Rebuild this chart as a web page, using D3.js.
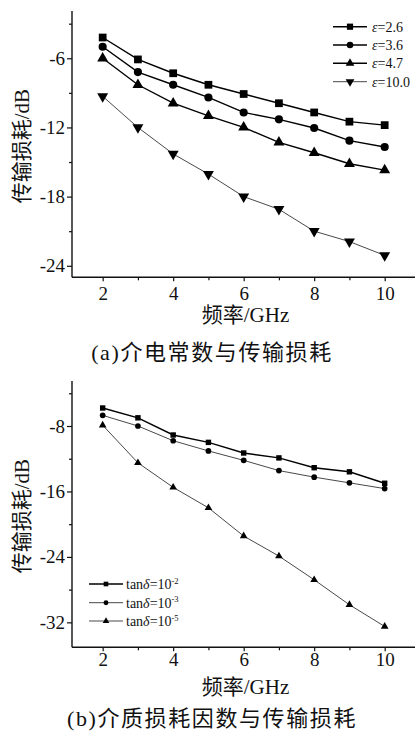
<!DOCTYPE html>
<html>
<head>
<meta charset="utf-8">
<script src="https://d3js.org/d3.v7.min.js"></script>
<style>
  body { margin: 0; background: #fff; }
  svg text { font-family: "Liberation Serif", "Times New Roman", "Noto Sans CJK SC", serif; fill: #111; }
</style>
</head>
<body>
<svg id="chart" width="418" height="733"></svg>
<script>
// frequency points (GHz)
const freqs = [2, 3, 4, 5, 6, 7, 8, 9, 10];

// (a) dielectric constant vs transmission loss (dB)
const eps26 = [-4.2, -6.1, -7.3, -8.3, -9.1, -9.9, -10.7, -11.5, -11.8];
const eps36 = [-5.0, -7.2, -8.3, -9.4, -10.7, -11.3, -12.05, -13.15, -13.7];
const eps47 = [-6.0, -8.3, -9.9, -11.0, -12.0, -13.3, -14.2, -15.15, -15.7];
const eps100 = [-9.3, -12.0, -14.3, -16.05, -18.0, -19.1, -21.0, -21.9, -23.1];

// (b) loss tangent vs transmission loss (dB)
const tan2 = [-5.8, -7.0, -9.1, -10.0, -11.3, -11.9, -13.1, -13.6, -15.0];
const tan3 = [-6.7, -8.0, -9.8, -11.05, -12.2, -13.45, -14.25, -14.95, -15.65];
const tan5 = [-7.9, -12.5, -15.5, -18.0, -21.45, -23.9, -26.8, -29.85, -32.5];

// tick labels
const xTicks = [2, 4, 6, 8, 10];
const xMinor = [3, 5, 7, 9];
const yTicksA = [-6, -12, -18, -24];
const yMinorA = [-3, -9, -15, -21];
const yTicksB = [-8, -16, -24, -32];
const yMinorB = [-4, -12, -20, -28];

const svg = d3.select('#chart');
const left = 72, right = 415;

const panels = [
    {
        top: 11, bottom: 277.3, yDomain: [-25, -1.9], yTicks: yTicksA, yMinor: yMinorA,
        xPad: 5, xTitleY: 322, caption: '(a)介电常数与传输损耗', captionY: 360,
        markerScale: 1,
        series: [
            { values: eps26, sym: 'square', label: 'ε', suffix: '=2.6', thick: true },
            { values: eps36, sym: 'circle', label: 'ε', suffix: '=3.6', thick: true },
            { values: eps47, sym: 'triangle', label: 'ε', suffix: '=4.7', thick: true },
            { values: eps100, sym: 'down', label: 'ε', suffix: '=10.0', thick: false }
        ],
        legend: { x1: 333, x2: 367, tx: 372, ys: [26.7, 45, 63.3, 81.7], scale: 0.8 }
    },
    {
        top: 381, bottom: 647.3, yDomain: [-35.05, -2.5], yTicks: yTicksB, yMinor: yMinorB,
        xPad: 1.5, xTitleY: 694, caption: '(b)介质损耗因数与传输损耗', captionY: 726,
        markerScale: 0.7,
        series: [
            { values: tan2, sym: 'square', tan: true, sup: '-2', thick: true },
            { values: tan3, sym: 'circle', tan: true, sup: '-3', thick: false },
            { values: tan5, sym: 'triangle', tan: true, sup: '-5', thick: false }
        ],
        legend: { x1: 89, x2: 123, tx: 126, ys: [584, 602.7, 621], scale: 0.6 }
    }
];

const symbolArea = { square: 60, circle: 52, triangle: 52, down: 52 };
function symbolPath(sym, scale) {
    const type = sym === 'square' ? d3.symbolSquare : sym === 'circle' ? d3.symbolCircle : d3.symbolTriangle;
    return d3.symbol().type(type).size(symbolArea[sym] * scale * scale)();
}

panels.forEach(p => {
    const x = d3.scaleLinear().domain([1.13, 10.86]).range([left, right]);
    const y = d3.scaleLinear().domain(p.yDomain).range([p.bottom, p.top]);
    const g = svg.append('g');

    // axes: major ticks with labels, minor ticks without
    const xAxis = g.append('g')
        .attr('transform', `translate(0,${p.bottom})`)
        .call(d3.axisBottom(x).tickValues(xTicks).tickSize(4).tickPadding(p.xPad).tickFormat(d => String(d)));
    g.append('g')
        .attr('transform', `translate(0,${p.bottom})`)
        .call(d3.axisBottom(x).tickValues(xMinor).tickSize(3).tickFormat(''))
        .call(a => a.select('.domain').remove());
    const yAxis = g.append('g')
        .attr('transform', `translate(${left},0)`)
        .call(d3.axisLeft(y).tickValues(p.yTicks).tickSize(5).tickPadding(2).tickFormat(d => String(d)));
    g.append('g')
        .attr('transform', `translate(${left},0)`)
        .call(d3.axisLeft(y).tickValues(p.yMinor).tickSize(3).tickFormat(''))
        .call(a => a.select('.domain').remove());

    // plain axis lines, no end caps
    xAxis.select('.domain').attr('d', `M${left},0H${right}`);
    yAxis.select('.domain').attr('d', `M0,${p.top}V${p.bottom}`);
    g.selectAll('.domain').attr('stroke', '#111').attr('stroke-width', 1.4);
    g.selectAll('.tick line').attr('stroke', '#111').attr('stroke-width', 1.2);
    g.selectAll('.tick text').attr('font-size', 19).attr('fill', '#111');

    // axis titles
    g.append('text')
        .attr('x', (left + right) / 2 + 2).attr('y', p.xTitleY)
        .attr('text-anchor', 'middle').attr('font-size', 21)
        .text('频率/GHz');
    g.append('text')
        .attr('transform', `translate(22,${(p.top + p.bottom) / 2 + 2}) rotate(-90)`)
        .attr('text-anchor', 'middle').attr('dy', '0.35em').attr('font-size', 21)
        .text('传输损耗/dB');

    // caption
    g.append('text')
        .attr('x', 212).attr('y', p.captionY)
        .attr('text-anchor', 'middle').attr('font-size', 22).attr('letter-spacing', 1.6)
        .text(p.caption);

    // series
    const line = d3.line().x((d, i) => x(freqs[i])).y(d => y(d));
    p.series.forEach(s => {
        g.append('path')
            .datum(s.values)
            .attr('fill', 'none')
            .attr('stroke', s.thick ? '#000' : '#333')
            .attr('stroke-width', s.thick ? 1.4 : 0.9)
            .attr('d', line);
        g.append('g').selectAll('path')
            .data(s.values)
            .join('path')
            .attr('d', symbolPath(s.sym, p.markerScale))
            .attr('fill', '#000')
            .attr('transform', (d, i) => `translate(${x(freqs[i])},${y(d)})${s.sym === 'down' ? ' rotate(180)' : ''}`);
    });

    // legend
    const L = p.legend;
    p.series.forEach((s, i) => {
        const ly = L.ys[i];
        g.append('line')
            .attr('x1', L.x1).attr('x2', L.x2).attr('y1', ly).attr('y2', ly)
            .attr('stroke', s.thick ? '#000' : '#333')
            .attr('stroke-width', s.thick ? 1.4 : 0.9);
        g.append('path')
            .attr('d', symbolPath(s.sym, L.scale))
            .attr('fill', '#000')
            .attr('transform', `translate(${(L.x1 + L.x2) / 2},${ly})${s.sym === 'down' ? ' rotate(180)' : ''}`);
        const t = g.append('text').attr('x', L.tx).attr('y', ly + 5).attr('font-size', 14);
        if (s.tan) {
            t.append('tspan').text('tan');
            t.append('tspan').attr('font-style', 'italic').text('δ');
            t.append('tspan').text('=10');
            t.append('tspan').attr('font-size', 8.5).attr('dy', -5.5).text(s.sup);
        } else {
            t.append('tspan').attr('font-style', 'italic').text(s.label);
            t.append('tspan').text(s.suffix);
        }
    });
});
</script>
</body>
</html>
